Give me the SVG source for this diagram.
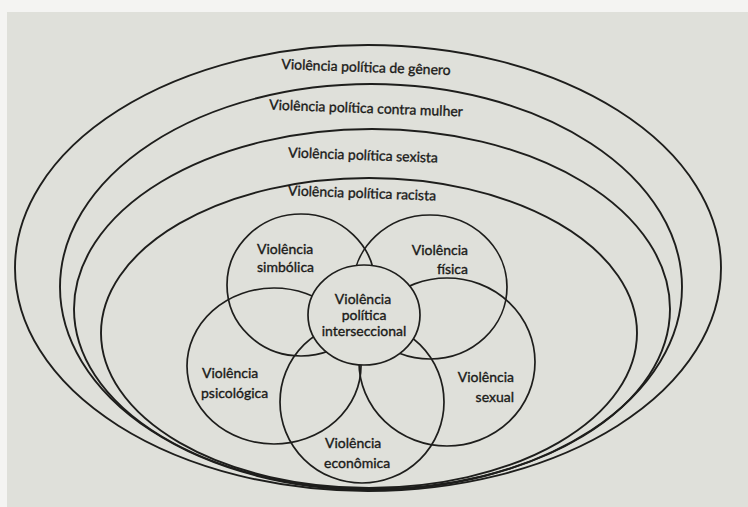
<svg xmlns="http://www.w3.org/2000/svg" width="748" height="507" viewBox="0 0 748 507">
  <style>
    .ring { fill: none; stroke: #1e1e1c; stroke-width: 1.9; }
    .petal { fill: none; stroke: #1e1e1c; stroke-width: 1.7; }
    .core { fill: #dfe0da; stroke: #1e1e1c; stroke-width: 1.7; }
    text { font-family: Lato, "Open Sans", "Liberation Sans", sans-serif; font-size: 14px; fill: #1a1a18; stroke: #1a1a18; stroke-width: 0.35; }
    .c { text-anchor: middle; }
    .r { text-anchor: end; }
  </style>
  <rect x="0" y="0" width="748" height="507" fill="#f4f4f2"/>
  <rect x="7" y="12" width="741" height="495" fill="#dfe0da"/>

  <g id="genero">
    <ellipse class="ring" cx="368" cy="268" rx="353" ry="223"/>
    <text class="c" x="366" y="72" transform="rotate(2 366 68)">Violência política de gênero</text>
  </g>
  <g id="contra-mulher">
    <ellipse class="ring" cx="371" cy="287" rx="311" ry="203"/>
    <text class="c" x="366" y="113" transform="rotate(2 366 109)">Violência política contra mulher</text>
  </g>
  <g id="sexista">
    <ellipse class="ring" cx="372" cy="309" rx="298" ry="180"/>
    <text class="c" x="363" y="160" transform="rotate(2 363 156)">Violência política sexista</text>
  </g>
  <g id="racista">
    <ellipse class="ring" cx="369" cy="333" rx="268" ry="155"/>
    <text class="c" x="362" y="198" transform="rotate(2 362 194)">Violência política racista</text>
  </g>

  <g id="simbolica">
    <ellipse class="petal" cx="301" cy="285" rx="74" ry="71"/>
    <text x="257" y="254">Violência</text>
    <text x="257" y="272">simbólica</text>
  </g>
  <g id="fisica">
    <ellipse class="petal" cx="430" cy="287" rx="77" ry="72"/>
    <text class="r" x="468" y="255">Violência</text>
    <text class="r" x="468" y="274">física</text>
  </g>
  <g id="sexual">
    <ellipse class="petal" cx="447" cy="362" rx="88" ry="84"/>
    <text class="r" x="514" y="382">Violência</text>
    <text class="r" x="514" y="402">sexual</text>
  </g>
  <g id="economica">
    <ellipse class="petal" cx="362" cy="402" rx="82" ry="81"/>
    <text x="325" y="448">Violência</text>
    <text x="324" y="468">econômica</text>
  </g>
  <g id="psicologica">
    <ellipse class="petal" cx="274" cy="366" rx="87" ry="78"/>
    <text x="202" y="378">Violência</text>
    <text x="201" y="398">psicológica</text>
  </g>
  <g id="interseccional">
    <ellipse class="core" cx="364" cy="315" rx="56" ry="50"/>
    <text class="c" x="363" y="304">Violência</text>
    <text class="c" x="364" y="320">política</text>
    <text class="c" x="364" y="336">interseccional</text>
  </g>
  <g id="connectors"/>
</svg>
